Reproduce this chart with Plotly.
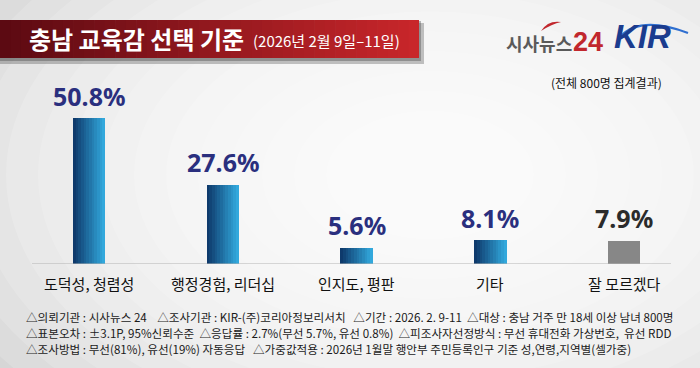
import plotly.graph_objects as go

# ---------------- data ----------------
categories = ["도덕성, 청렴성", "행정경험, 리더십", "인지도, 평판", "기타", "잘 모르겠다"]
values = [50.8, 27.6, 5.6, 8.1, 7.9]
value_labels = ["50.8%", "27.6%", "5.6%", "8.1%", "7.9%"]

title_main = "충남 교육감 선택 기준"
title_sub = "(2026년 2월 9일–11일)"
sample_note = "(전체 800명 집계결과)"
footer_lines = [
    "△의뢰기관 : 시사뉴스 24\u00a0\u00a0\u00a0 △조사기관 : KIR-(주)코리아정보리서치\u00a0\u00a0 △기간 : 2026. 2. 9-11\u00a0 △대상 : 충남 거주 만 18세 이상 남녀 800명",
    "△표본오차 : ±3.1P, 95%신뢰수준\u00a0 △응답률 : 2.7%(무선 5.7%, 유선 0.8%)\u00a0 △피조사자선정방식 : 무선 휴대전화 가상번호,\u00a0 유선 RDD",
    "△조사방법 : 무선(81%), 유선(19%) 자동응답\u00a0\u00a0 △가중값적용 : 2026년 1월말 행안부 주민등록인구 기준 성,연령,지역별(셀가중)",
]

W, H = 700, 368
KR = "Noto Sans CJK KR"


def py(p):  # pixel y from top -> paper
    return (H - p) / H


def px(p):
    return p / W


def lerp(c1, c2, t):
    return "#%02x%02x%02x" % tuple(int(round(a + (b - a) * t)) for a, b in zip(c1, c2))


fig = go.Figure()

# gradient bars built from strips
N = 12
BW = 0.24
left_c, right_c = (14, 58, 108), (50, 168, 220)
for i in range(N):
    t = i / (N - 1)
    col = lerp(left_c, right_c, t)
    colors = [col, col, col, col, "#878787"]
    fig.add_trace(go.Bar(
        x=categories, y=values, width=BW / N + 0.002, offset=-BW / 2 + i * BW / N,
        marker=dict(color=colors, line=dict(width=0)), showlegend=False, hoverinfo="skip",
    ))

shapes = []
# background: grey with soft white glow
shapes.append(dict(type="rect", xref="paper", yref="paper", x0=0, x1=1, y0=0, y1=1,
                   fillcolor="#d6d6d6", line=dict(width=0), layer="below"))
cx, cy = 430, 175
for k in range(14):
    r = 520 - k * 32
    ry = r * 0.62
    shapes.append(dict(type="circle", xref="paper", yref="paper",
                       x0=px(cx - r), x1=px(cx + r), y0=py(cy + ry), y1=py(cy - ry),
                       fillcolor="rgba(255,255,255,0.16)", line=dict(width=0), layer="below"))

# title bar shadow
shapes.append(dict(type="rect", xref="paper", yref="paper", x0=px(0), x1=px(424),
                   y0=py(64), y1=py(23), fillcolor="rgba(60,60,60,0.3)", line=dict(width=0), layer="below"))
shapes.append(dict(type="rect", xref="paper", yref="paper", x0=px(0), x1=px(421),
                   y0=py(61), y1=py(21), fillcolor="rgba(60,60,60,0.35)", line=dict(width=0), layer="below"))
# title bar gradient
M = 40
bx0, bx1 = 0, 419
c_l, c_r = (92, 10, 18), (200, 38, 42)
for i in range(M):
    x0 = bx0 + (bx1 - bx0) * i / M
    x1 = bx0 + (bx1 - bx0) * (i + 1) / M + 0.6
    shapes.append(dict(type="rect", xref="paper", yref="paper", x0=px(x0), x1=px(min(x1, bx1)),
                       y0=py(58), y1=py(20), fillcolor=lerp(c_l, c_r, i / (M - 1)),
                       line=dict(width=0), layer="below"))

# baseline
shapes.append(dict(type="line", xref="paper", yref="y", x0=px(32), x1=px(671), y0=0, y1=0,
                   line=dict(color="#b4b4b4", width=1.2)))

# logo swooshes
shapes.append(dict(type="path", xref="paper", yref="paper",
                   path="M %f,%f Q %f,%f %f,%f Q %f,%f %f,%f Z" % (
                       px(541), py(31), px(548), py(20), px(561), py(22),
                       px(552), py(24), px(541), py(31)),
                   fillcolor="#c1272d", line=dict(width=0)))
shapes.append(dict(type="path", xref="paper", yref="paper",
                   path="M %f,%f Q %f,%f %f,%f" % (px(620), py(37), px(640), py(15), px(688), py(33)),
                   line=dict(color="#2f6fd0", width=2.2)))

annotations = []
# value labels
for c, v, lab in zip(categories, values, value_labels):
    annotations.append(dict(x=c, y=v, xref="x", yref="y", text="<b>%s</b>" % lab, showarrow=False,
                            yanchor="bottom", yshift=4,
                            font=dict(family="Noto Sans, " + KR, size=25,
                                      color="#2b2b2b" if c == "잘 모르겠다" else "#2a2f7e")))
# category labels
for c in categories:
    annotations.append(dict(x=c, y=py(283), xref="x", yref="paper", text=c, showarrow=False,
                            yanchor="middle", font=dict(family=KR, size=15, color="#111111")))

# title
annotations.append(dict(x=px(27), y=py(39), xref="paper", yref="paper", xanchor="left", yanchor="middle",
                        text="<b>%s</b>" % title_main, showarrow=False,
                        font=dict(family=KR, size=24, color="white")))
annotations.append(dict(x=px(251), y=py(40), xref="paper", yref="paper", xanchor="left", yanchor="middle",
                        text=title_sub, showarrow=False,
                        font=dict(family=KR, size=15, color="white")))

# logos
annotations.append(dict(x=px(504), y=py(43), xref="paper", yref="paper", xanchor="left", yanchor="middle",
                        text="<b>시사뉴스</b>", showarrow=False,
                        font=dict(family=KR, size=18, color="#5a5a5a")))
annotations.append(dict(x=px(571), y=py(42), xref="paper", yref="paper", xanchor="left", yanchor="middle",
                        text="<b>24</b>", showarrow=False,
                        font=dict(family="Liberation Sans Narrow, Liberation Sans", size=27, color="#c1272d")))
annotations.append(dict(x=px(612), y=py(37), xref="paper", yref="paper", xanchor="left", yanchor="middle",
                        text="<b><i>KIR</i></b>", showarrow=False,
                        font=dict(family="Liberation Sans", size=33, color="#1b3c8e")))

# sample note
annotations.append(dict(x=px(606), y=py(82), xref="paper", yref="paper", xanchor="center", yanchor="middle",
                        text=sample_note, showarrow=False,
                        font=dict(family=KR, size=12, color="#111111")))

# footer
for i, line in enumerate(footer_lines):
    annotations.append(dict(x=px(24), y=py(317 + i * 16), xref="paper", yref="paper",
                            xanchor="left", yanchor="middle", text=line, showarrow=False,
                            font=dict(family=KR, size=11.6, color="#1a1a1a")))

fig.update_layout(
    width=W, height=H, margin=dict(l=0, r=0, t=0, b=0),
    paper_bgcolor="#d6d6d6", plot_bgcolor="rgba(0,0,0,0)",
    barmode="overlay", bargap=0,
    xaxis=dict(domain=[px(22), px(691)], range=[-0.5, 4.5], showticklabels=False,
               showgrid=False, zeroline=False, showline=False, fixedrange=True),
    yaxis=dict(domain=[py(264), py(92.4)], range=[0, 60], showticklabels=False,
               showgrid=False, zeroline=False, showline=False, fixedrange=True),
    shapes=shapes, annotations=annotations, showlegend=False,
)

fig.write_html("out.html", config={"displayModeBar": False},
               post_script="document.body.style.margin='0';document.body.style.overflow='hidden';")
